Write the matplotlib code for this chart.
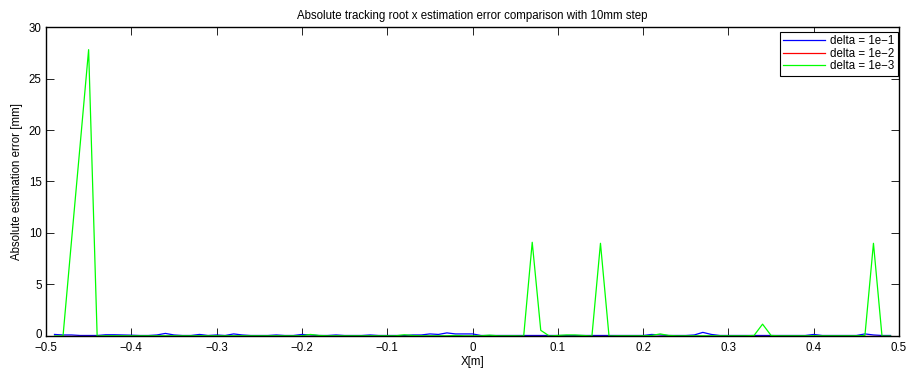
import numpy as np
import matplotlib.pyplot as plt
import matplotlib.transforms as mtransforms

plt.rcParams['font.family'] = ['Liberation Sans', 'DejaVu Sans']

# x positions [m], 10mm step
x = np.round(np.arange(-49, 50) / 100.0, 2)

# absolute estimation error [mm], rows of 11 points
err_1e1 = [
    0.15, 0.10, 0.10, 0.05, 0.05, 0.05, 0.12, 0.12, 0.10, 0.08, 0.05,
    0.05, 0.10, 0.25, 0.10, 0.05, 0.05, 0.15, 0.05, 0.10, 0.05, 0.20,
    0.10, 0.05, 0.05, 0.05, 0.10, 0.05, 0.05, 0.15, 0.10, 0.05, 0.05,
    0.10, 0.05, 0.05, 0.05, 0.10, 0.05, 0.05, 0.05, 0.05, 0.10, 0.10,
    0.20, 0.15, 0.30, 0.20, 0.20, 0.20, 0.05, 0.05, 0.05, 0.05, 0.05,
    0.05, 0.05, 0.05, 0.05, 0.05, 0.05, 0.05, 0.05, 0.05, 0.05, 0.05,
    0.05, 0.05, 0.05, 0.05, 0.15, 0.10, 0.05, 0.05, 0.05, 0.10, 0.35,
    0.15, 0.05, 0.05, 0.05, 0.05, 0.05, 0.05, 0.05, 0.05, 0.05, 0.05,
    0.05, 0.15, 0.05, 0.05, 0.05, 0.05, 0.05, 0.20, 0.10, 0.05, 0.05,
]
err_1e2 = [0.01] * 99
err_1e3 = [
    0.00, 0.00, 9.30, 18.5, 27.8, 0.00, 0.02, 0.02, 0.02, 0.02, 0.02,
    0.02, 0.02, 0.02, 0.02, 0.02, 0.02, 0.02, 0.02, 0.02, 0.02, 0.02,
    0.02, 0.02, 0.02, 0.02, 0.02, 0.02, 0.02, 0.02, 0.15, 0.05, 0.02,
    0.02, 0.02, 0.02, 0.02, 0.02, 0.02, 0.02, 0.02, 0.12, 0.05, 0.02,
    0.02, 0.02, 0.02, 0.05, 0.02, 0.02, 0.02, 0.08, 0.02, 0.02, 0.02,
    0.00, 9.10, 0.55, 0.00, 0.05, 0.10, 0.10, 0.05, 0.00, 9.00, 0.00,
    0.02, 0.02, 0.02, 0.02, 0.05, 0.20, 0.05, 0.02, 0.02, 0.02, 0.02,
    0.02, 0.02, 0.02, 0.02, 0.02, 0.05, 1.15, 0.05, 0.02, 0.02, 0.02,
    0.02, 0.02, 0.02, 0.02, 0.02, 0.02, 0.02, 0.05, 9.00, 0.00, 0.00,
]
labels = ['delta = 1e\u22121', 'delta = 1e\u22122', 'delta = 1e\u22123']
colors = ['#0000ff', '#ff0000', '#00ff00']

fig = plt.figure(figsize=(9.12, 3.72), dpi=100)
ax = fig.add_axes([0.0504, 0.0968, 0.9354, 0.8306])

for y, lab, c in zip([err_1e1, err_1e2, err_1e3], labels, colors):
    ax.plot(x, y, color=c, lw=0.9, label=lab)

ax.set_xlim(-0.5, 0.5)
ax.set_ylim(0, 30)
ax.set_xticks(np.arange(-0.5, 0.51, 0.1))
ax.set_xticklabels(['\u22120.5', '\u22120.4', '\u22120.3', '\u22120.2', '\u22120.1',
                    '0', '0.1', '0.2', '0.3', '0.4', '0.5'])
ax.set_yticks(range(0, 31, 5))
ax.tick_params(direction='in', top=True, right=True, labelsize=8.3, length=6,
               width=0.6)
ax.tick_params(axis='x', pad=4)
ax.tick_params(axis='y', pad=3)
for s in ax.spines.values():
    s.set_linewidth(1.0)

# nudge the "0" y label up a little so it clears "-0.5"
fig.canvas.draw()
ylabs = ax.get_yticklabels()
ylabs[0].set_transform(ylabs[0].get_transform() +
                       mtransforms.ScaledTranslation(0, 2 / 72, fig.dpi_scale_trans))

ax.set_xlabel('X[m]', fontsize=8.3, labelpad=2)
ax.set_ylabel('Absolute estimation error [mm]', fontsize=8.3, labelpad=4)
ax.set_title('Absolute tracking root x estimation error comparison with 10mm step',
             fontsize=8.3, pad=6)

leg = ax.legend(loc='upper right', bbox_to_anchor=(0.999, 0.985), borderaxespad=0,
                fontsize=8.3, fancybox=False, edgecolor='black', framealpha=1,
                handlelength=3.6, labelspacing=0.05, borderpad=0.3,
                handletextpad=0.5)
leg.get_frame().set_linewidth(0.8)

fig.savefig('out.png', dpi=100)
